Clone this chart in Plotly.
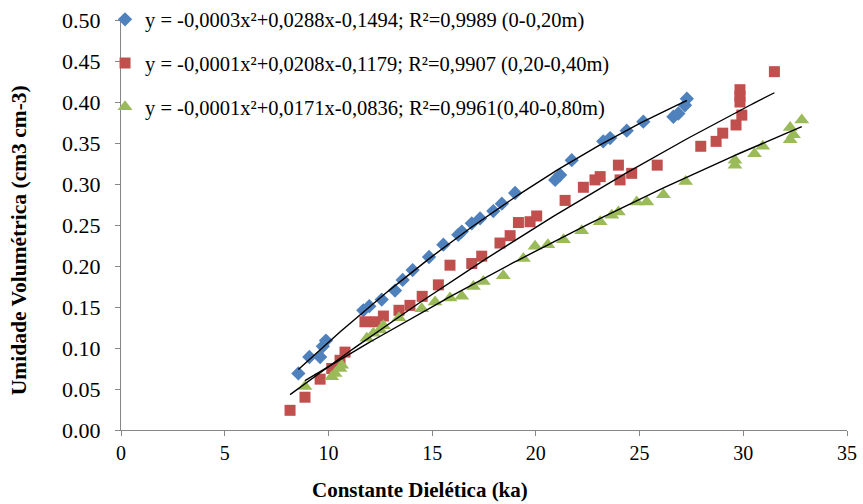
import numpy as np
import plotly.graph_objects as go

# Dielectric constant (ka) and volumetric moisture readings per depth layer
ka_0_20 = [8.55, 9.08, 9.60, 9.73, 9.88, 11.68, 11.97, 12.57, 13.21, 13.58, 14.06,
           14.85, 15.54, 16.26, 16.43, 16.91, 17.31, 17.95, 18.36, 19.00, 20.93,
           21.17, 21.73, 23.25, 23.58, 24.38, 25.18, 26.63, 26.87, 27.19, 27.28]
theta_0_20 = [0.069, 0.089, 0.089, 0.102, 0.109, 0.146, 0.151, 0.159, 0.170, 0.183, 0.195,
              0.211, 0.226, 0.238, 0.242, 0.252, 0.258, 0.267, 0.276, 0.289, 0.305,
              0.311, 0.329, 0.352, 0.356, 0.365, 0.376, 0.382, 0.386, 0.396, 0.404]

ka_20_40 = [8.15, 8.87, 9.60, 10.16, 10.56, 10.80, 11.76, 12.25, 12.65, 13.40, 13.93,
            14.52, 15.30, 15.86, 16.91, 17.39, 18.27, 18.76, 19.16, 19.72, 20.04,
            21.41, 22.29, 22.85, 23.10, 23.98, 24.06, 24.62, 25.85, 27.95, 28.69,
            29.01, 29.65, 29.93, 29.84, 29.84, 29.84, 31.50]
theta_20_40 = [0.024, 0.040, 0.062, 0.075, 0.085, 0.095, 0.132, 0.132, 0.139, 0.146, 0.152,
               0.163, 0.177, 0.201, 0.203, 0.212, 0.228, 0.237, 0.253, 0.254, 0.261,
               0.280, 0.296, 0.305, 0.309, 0.323, 0.305, 0.313, 0.323, 0.346, 0.352,
               0.362, 0.372, 0.384, 0.400, 0.407, 0.415, 0.437]

ka_40_80 = [8.87, 10.16, 10.32, 10.56, 10.64, 11.85, 12.17, 12.49, 12.65, 13.40, 14.50,
            15.14, 15.86, 16.43, 16.99, 17.47, 18.43, 19.40, 19.96, 20.58, 21.33,
            22.21, 23.10, 23.66, 23.98, 24.86, 25.35, 26.15, 27.22, 29.60, 29.60,
            30.54, 30.94, 32.26, 32.42, 32.26, 32.82]
theta_40_80 = [0.053, 0.065, 0.069, 0.075, 0.079, 0.112, 0.118, 0.122, 0.127, 0.137, 0.148,
               0.156, 0.161, 0.163, 0.175, 0.181, 0.188, 0.209, 0.224, 0.226, 0.232,
               0.243, 0.254, 0.262, 0.266, 0.278, 0.278, 0.287, 0.303, 0.323, 0.329,
               0.337, 0.346, 0.354, 0.360, 0.369, 0.378]

# Quadratic calibration coefficients (a, b, c) for y = a x² + b x + c
coef_0_20 = [-0.000315, 0.0288, -0.1494]
coef_20_40 = [-0.000127, 0.0208, -0.1179]
coef_40_80 = [-0.0001, 0.0171, -0.0836]

labels = [
    "y = -0,0003x²+0,0288x-0,1494; R²=0,9989 (0-0,20m)",
    "y = -0,0001x²+0,0208x-0,1179; R²=0,9907 (0,20-0,40m)",
    "y = -0,0001x²+0,0171x-0,0836; R²=0,9961(0,40-0,80m)",
]
x_title = "Constante Dielética (ka)"
y_title = "Umidade Volumétrica (cm3 cm-3)"

series = [
    (ka_0_20, theta_0_20, coef_0_20, "diamond", "#4F81BD", 11),
    (ka_20_40, theta_20_40, coef_20_40, "square", "#C0504D", 11),
    (ka_40_80, theta_40_80, coef_40_80, "triangle-up", "#9BBB59", 13),
]

fig = go.Figure()
for i, (xs, ys, coef, sym, col, sz) in enumerate(series):
    fig.add_trace(go.Scatter(
        x=xs, y=ys, mode="markers", name=labels[i], legendgroup=f"g{i}",
        marker=dict(symbol=sym, color=col, size=sz, line=dict(width=0)),
    ))

# Polynomial trend lines over each layer's measured range
for i, (xs, ys, coef, sym, col, sz) in enumerate(series):
    xf = np.linspace(min(xs), max(xs), 120)
    yf = np.polyval(coef, xf)
    fig.add_trace(go.Scatter(
        x=xf, y=yf, mode="lines", showlegend=False, hoverinfo="skip",
        line=dict(color="black", width=1.4),
    ))

serif = "Liberation Serif"
axis_common = dict(
    showline=True, linecolor="#868686", linewidth=1.3,
    ticks="outside", tickcolor="#868686", ticklen=5, tickwidth=1,
    showgrid=False, zeroline=False, mirror=False,
)

fig.update_layout(
    width=863, height=504,
    margin=dict(l=121, r=16, t=20, b=74, autoexpand=False),
    paper_bgcolor="white", plot_bgcolor="white",
    font=dict(family=serif, color="black"),
    showlegend=True,
    legend=dict(
        x=-0.022, y=1.05, xanchor="left", yanchor="top",
        font=dict(family=serif, size=20.5, color="black"),
        bgcolor="rgba(0,0,0,0)", tracegroupgap=14, itemwidth=30,
    ),
    xaxis=dict(range=[0, 35], dtick=5, **axis_common,
               tickfont=dict(family=serif, size=20, color="black")),
    yaxis=dict(range=[0, 0.5], dtick=0.05, tickformat=".2f", **axis_common,
               ticklabelstandoff=10,
               tickfont=dict(family=serif, size=22, color="black")),
    annotations=[
        dict(text=x_title, xref="paper", yref="paper", x=0.412, y=-0.146,
             xanchor="center", yanchor="middle", showarrow=False,
             font=dict(family=serif, size=21, weight="bold", color="black")),
        dict(text=y_title, xref="paper", yref="paper", x=-0.1405, y=0.463,
             xanchor="center", yanchor="middle", showarrow=False, textangle=-90,
             font=dict(family=serif, size=21.5, weight="bold", color="black")),
    ],
)

fig.write_html("out.html")
